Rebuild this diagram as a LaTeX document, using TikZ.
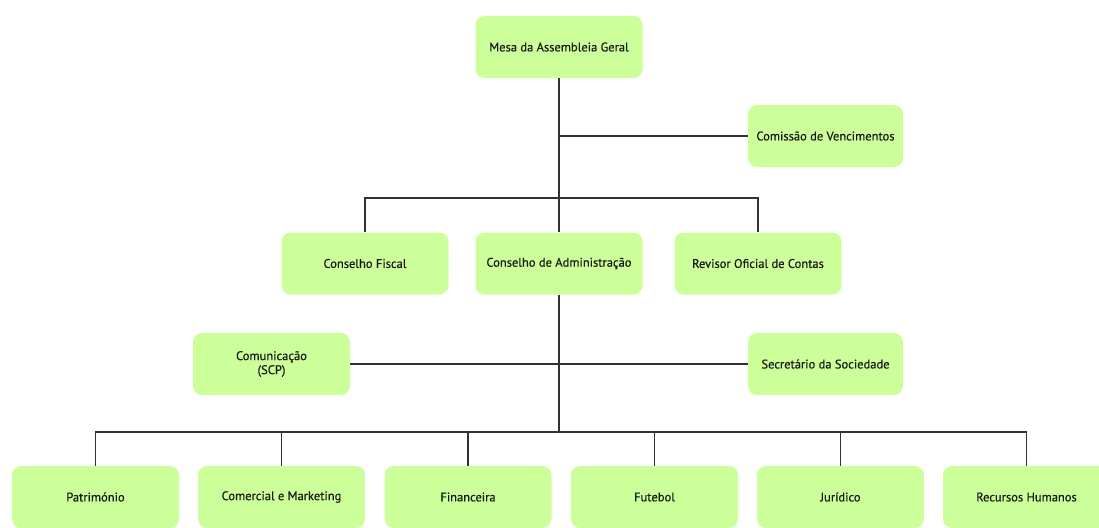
\documentclass[tikz,border=0pt]{standalone}
\usepackage{fontspec}
\setmainfont{PT Sans}
\newfontfamily\boxfont[FakeBold=0.5]{PT Sans}
\definecolor{boxgreen}{RGB}{204,255,153}
\definecolor{linegray}{RGB}{50,50,50}
\begin{document}
\begin{tikzpicture}[x=1pt,y=-1pt,
  box/.style={draw=none, fill=boxgreen, rounded corners=9pt, minimum width=167pt,
    minimum height=62pt, inner sep=2pt, align=center,
    font=\boxfont\fontsize{12.5}{14}\selectfont, text=black!90},
  sidebox/.style={box, minimum width=155pt},
  link/.style={draw=linegray, line width=1.2pt}]
\useasboundingbox (0,0) rectangle (1099,527);
\clip (0,0) rectangle (1099,527);
% nodes
\node[box] (mesa) at (559,47) {Mesa da Assembleia Geral};
\node[sidebox] (comissao) at (825.5,136) {Comissão de Vencimentos};
\node[box] (fiscal) at (365,263.5) {Conselho Fiscal};
\node[box] (admin) at (559,263.5) {Conselho de Administração};
\node[box] (revisor) at (758,263.5) {Revisor Oficial de Contas};
\node[box, minimum width=157pt] (comun) at (271.5,364) {Comunicação\\(SCP)};
\node[sidebox] (secr) at (825.5,364) {Secretário da Sociedade};
\node[box] (patr) at (95.5,497) {Património};
\node[box] (comer) at (281.5,497) {Comercial e Marketing};
\node[box] (finan) at (468,497) {Financeira};
\node[box] (fute) at (654.5,497) {Futebol};
\node[box] (juri) at (840.5,497) {Jurídico};
\node[box] (rh) at (1026.5,497) {Recursos Humanos};
% junctions
\coordinate (b2) at (559,198);
\coordinate (b3) at (559,432);
% connectors
\draw[link] (mesa.south) -- (admin.north);
\draw[link] (mesa.south |- comissao.west) -- (comissao.west);
\draw[link] (fiscal.north) |- (b2) -| (revisor.north);
\draw[link] (admin.south) -- (b3);
\draw[link] (comun.east) -- (secr.west);
\draw[link] (patr.north) |- (b3) -| (rh.north);
\draw[link] (comer.north) -- (comer.north |- b3);
\draw[link] (finan.north) -- (finan.north |- b3);
\draw[link] (fute.north) -- (fute.north |- b3);
\draw[link] (juri.north) -- (juri.north |- b3);
\end{tikzpicture}
\end{document}
